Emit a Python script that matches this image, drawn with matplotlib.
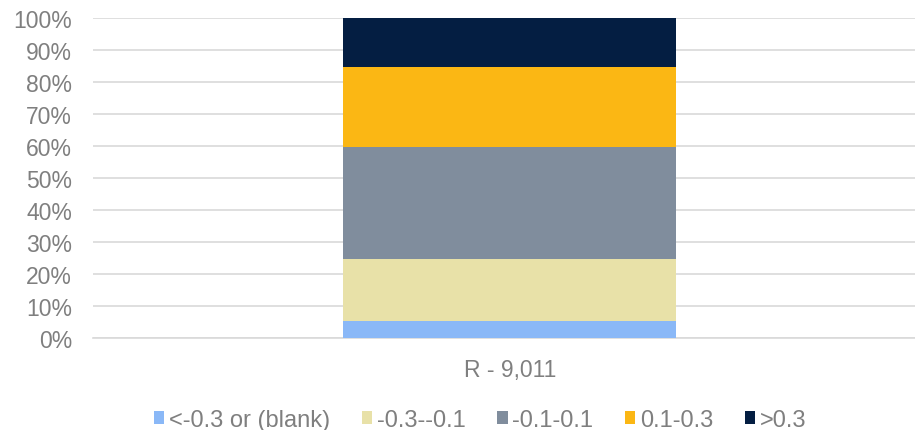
import numpy as np
import matplotlib.pyplot as plt
from matplotlib.ticker import PercentFormatter

plt.rcParams['font.family'] = ['Liberation Sans', 'DejaVu Sans']

categories = ['R - 9,011']
bands = ['<-0.3 or (blank)', '-0.3--0.1', '-0.1-0.1', '0.1-0.3', '>0.3']
shares = [5.2, 19.6, 34.8, 25.2, 15.2]
colors = ['#8AB8F7', '#E8E1A8', '#808D9D', '#FBB714', '#041E42']

fig, ax = plt.subplots(figsize=(9.15, 4.31), dpi=100)
fig.subplots_adjust(left=0.1016, right=1.0, top=0.956, bottom=0.2135)

x = np.arange(len(categories))
bottom = np.zeros(len(categories))
for band, val, c in zip(bands, shares, colors):
    ax.bar(x, [val], 0.405, bottom=bottom, color=c, label=band, zorder=3)
    bottom += val

ax.set_xlim(-0.507, 0.493)
ax.set_ylim(0, 100)
ax.set_yticks(np.arange(0, 101, 10))
ax.yaxis.set_major_formatter(PercentFormatter(decimals=0))
ax.set_xticks(x)
ax.set_xticklabels(categories)
ax.grid(axis='y', color='#D9D9D9', linewidth=1.2, zorder=0)
for s in ['top', 'right', 'left']:
    ax.spines[s].set_visible(False)
ax.spines['bottom'].set_color('#D9D9D9')
ax.spines['bottom'].set_linewidth(1.2)
ax.tick_params(axis='both', length=0, labelsize=16.5, colors='#7F7F7F')
ax.tick_params(axis='y', pad=15)
ax.tick_params(axis='x', pad=14.5)

ax.legend(loc='center', bbox_to_anchor=(0.471, -0.256), ncol=5, frameon=False,
          fontsize=17, labelcolor='#7F7F7F', handlelength=0.45, handleheight=0.45,
          handletextpad=0.2, columnspacing=1.33, borderaxespad=0)

fig.savefig('out.png', dpi=100)
